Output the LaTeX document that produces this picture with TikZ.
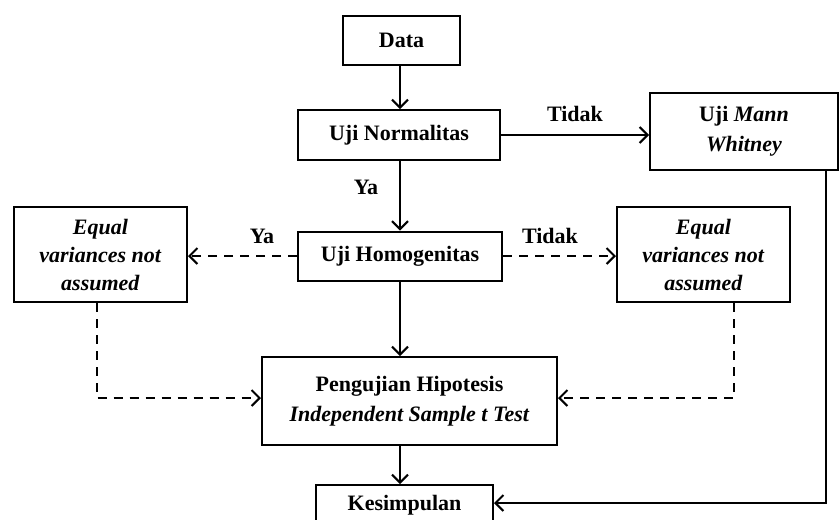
\documentclass[tikz,border=0pt]{standalone}
\usepackage{fontspec}
\setmainfont{Liberation Serif}
\usetikzlibrary{arrows.meta,calc}
\begin{document}
\begin{tikzpicture}[x=1pt,y=-1pt,
  box/.style={draw,line width=2pt,align=center,inner sep=2pt,
    font=\fontsize{22}{28}\selectfont\bfseries},
  lbl/.style={font=\fontsize{22}{24}\selectfont\bfseries,inner sep=0pt},
  arr/.style={line width=2pt,-{Straight Barb[length=8pt,width=16pt,line width=2pt]}},
  dsh/.style={arr,dash pattern=on 9pt off 7pt}]
\useasboundingbox (0,0) rectangle (839,520);
\node[box,minimum width=117pt,minimum height=49pt] (data) at (401.5,40) {Data};
\node[box,minimum width=202pt,minimum height=50pt] (norm) at (399,135) {Uji Normalitas};
\node[box,minimum width=188pt,minimum height=77pt,font=\fontsize{22}{30}\selectfont\bfseries] (mann) at (744,131.5) {Uji \textit{Mann}\\\textit{Whitney}};
\node[box,minimum width=204pt,minimum height=49pt] (homog) at (400,256) {Uji Homogenitas};
\node[box,minimum width=173pt,minimum height=95pt] (eqL) at (100.5,254.5) {\textit{Equal}\\\textit{variances not}\\\textit{assumed}};
\node[box,minimum width=173pt,minimum height=95pt] (eqR) at (703.5,254.5) {\textit{Equal}\\\textit{variances not}\\\textit{assumed}};
\node[box,minimum width=295pt,minimum height=88pt,font=\fontsize{22}{30}\selectfont\bfseries] (hip) at (409.5,401) {Pengujian Hipotesis\\\textit{Independent Sample t Test}};
\node[box,minimum width=177pt,minimum height=40pt] (kes) at (404.5,505) {Kesimpulan};
\coordinate (cx) at (400,0);
\draw[arr] (data.south -| cx) -- (norm.north -| cx);
\draw[arr] (norm.east) -- (norm.east -| mann.west);
\node[lbl] (t1) at (575,114) {Tidak};
\draw[arr] (norm.south -| cx) -- (homog.north -| cx);
\node[lbl] (y1) at (366,187) {Ya};
\draw[dsh] (homog.west) -- (homog.west -| eqL.east);
\node[lbl] (y2) at (262,236) {Ya};
\draw[dsh] (homog.east) -- (homog.east -| eqR.west);
\node[lbl] (t2) at (550,236) {Tidak};
\draw[arr] (homog.south -| cx) -- (hip.north -| cx);
\coordinate (hl) at ($(hip.west)+(0,-3)$);
\coordinate (hr) at ($(hip.east)+(0,-3)$);
\draw[dsh] ([xshift=-4pt]eqL.south) |- (hl);
\draw[dsh] ([xshift=30pt]eqR.south) |- (hr);
\draw[arr] (hip.south -| cx) -- (kes.north -| cx);
\coordinate (kr) at ($(kes.east)+(0,-2)$);
\draw[arr] ([xshift=82pt]mann.south) |- (kr);
\end{tikzpicture}
\end{document}
